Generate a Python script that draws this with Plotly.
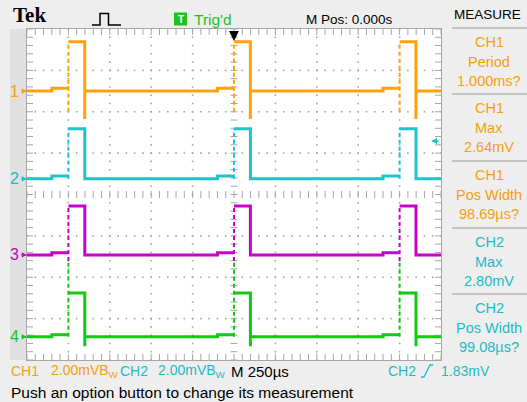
import plotly.graph_objects as go

# ---------------- data ----------------
TIME_RANGE_US = [-1250, 1250]          # 10 div x 250 us/div
DIV_RANGE = [-4, 4]                    # 8 vertical divisions
US_PER_DIV = 250
MV_PER_DIV = 2.0
PULSE_STARTS_US = [-1000, 0, 1000]
PRE_BUMP_US = 100

channels = ["CH1", "CH2", "CH3", "CH4"]
ground_div = [2.50, 0.38, -1.46, -3.44]
pulse_width_us = [98.69, 99.08, 99.0, 99.0]
pre_mv = [0.14, 0.14, 0.10, 0.10]
high_mv = [2.38, 2.42, 2.36, 2.12]
rise_lo_mv = [-1.00, 0.0, -0.30, 0.0]
rise_hi_mv = [2.38, 2.42, 2.36, 3.62]
fall_dip_mv = [-1.35, 0.0, 0.0, -0.45]

TRIG_LEVEL_MV = 1.83
measure_titles = ["CH1", "CH1", "CH1", "CH2", "CH2"]
measure_names = ["Period", "Max", "Pos Width", "Max", "Pos Width"]
measure_values = ["1.000ms?", "2.64mV", "98.69µs?", "2.80mV", "99.08µs?"]

# ---------------- style ----------------
W, H = 527, 402
PL, PR, PT, PB = 27, 441, 29, 360
COLORS = ["#ffa10a", "#1fc3c9", "#c800c8", "#14c814"]
TEXT_COLORS = ["#f5a00c", "#1cbcc6", "#c800c8", "#14c814"]
GRID = "#a6a6a6"
BG = "#eeeeee"
SANS = "Liberation Sans, Arial, sans-serif"


def px(xp):
    return (xp - PL) / (PR - PL)


def py(yp):
    return (PB - yp) / (PB - PT)


fig = go.Figure()

# graticule dots
xs, ys = [], []
for k in range(-4, 5):
    if k == 0:
        continue
    for m in range(-20, 21):
        xs.append(k * US_PER_DIV)
        ys.append(m * 0.2)
for j in range(-3, 4):
    if j == 0:
        continue
    for m in range(-25, 26):
        xs.append(m * 0.2 * US_PER_DIV)
        ys.append(j)
fig.add_trace(go.Scatter(x=xs, y=ys, mode="markers", hoverinfo="skip",
                         marker=dict(symbol="square", size=1.6, color=GRID, line_width=0)))

# center cross ticks
cx = [m * 0.2 * US_PER_DIV for m in range(-25, 26)]
fig.add_trace(go.Scatter(x=cx, y=[0] * len(cx), mode="markers", hoverinfo="skip",
                         marker=dict(symbol="line-ns", size=5, line=dict(color=GRID, width=1))))
cy = [m * 0.2 for m in range(-20, 21)]
fig.add_trace(go.Scatter(x=[0] * len(cy), y=cy, mode="markers", hoverinfo="skip",
                         marker=dict(symbol="line-ew", size=5, line=dict(color=GRID, width=1))))
# frame edge ticks
off_y = 2.5 / 41.4
off_x = 2.5 / 41.4 * US_PER_DIV
fig.add_trace(go.Scatter(x=cx + cx, y=[4 - off_y] * len(cx) + [-4 + off_y] * len(cx),
                         mode="markers", hoverinfo="skip",
                         marker=dict(symbol="line-ns", size=5, line=dict(color=GRID, width=1))))
fig.add_trace(go.Scatter(x=[-1250 + off_x] * len(cy) + [1250 - off_x] * len(cy), y=cy + cy,
                         mode="markers", hoverinfo="skip",
                         marker=dict(symbol="line-ew", size=5, line=dict(color=GRID, width=1))))

# waveforms
for i, ch in enumerate(channels):
    g = ground_div[i]
    w = pulse_width_us[i]

    def v(mv):
        return g + mv / MV_PER_DIV
    sx, sy = [TIME_RANGE_US[0]], [v(0)]
    rx, ry = [], []
    for p in PULSE_STARTS_US:
        sx += [p - PRE_BUMP_US, p - PRE_BUMP_US, p, None, p, p + w, p + w, p + w]
        sy += [v(0), v(pre_mv[i]), v(pre_mv[i]), None, v(high_mv[i]), v(high_mv[i]),
               v(fall_dip_mv[i]), v(0)]
        rx += [p, p, None]
        ry += [v(rise_lo_mv[i]), v(rise_hi_mv[i]), None]
    sx.append(TIME_RANGE_US[1])
    sy.append(v(0))
    fig.add_trace(go.Scatter(x=sx, y=sy, mode="lines", name=ch, hoverinfo="skip",
                             line=dict(color=COLORS[i], width=3), connectgaps=False))
    fig.add_trace(go.Scatter(x=rx, y=ry, mode="lines", hoverinfo="skip",
                             line=dict(color=COLORS[i], width=2, dash="4px,3px")))

annotations = []
shapes = []

# channel ground markers
for i, ch in enumerate(channels):
    annotations.append(dict(x=px(14), y=ground_div[i], xref="paper", yref="y", text=ch[-1],
                            showarrow=False, font=dict(family=SANS, size=16, color=TEXT_COLORS[i]),
                            xanchor="center", yanchor="middle"))
    annotations.append(dict(x=px(27), y=ground_div[i], xref="paper", yref="y", text="",
                            showarrow=True, ax=-7, ay=0, arrowhead=2, arrowsize=0.7,
                            arrowwidth=1.5, arrowcolor=TEXT_COLORS[i]))

# trigger position arrow
annotations.append(dict(x=0, y=py(41), xref="x", yref="paper", text="", showarrow=True,
                        ax=0, ay=-10, arrowhead=2, arrowsize=0.9, arrowwidth=2.2, arrowcolor="black"))
# trigger level arrow (CH2)
annotations.append(dict(x=(431 - 234) / 41.4 * US_PER_DIV, y=ground_div[1] + TRIG_LEVEL_MV / MV_PER_DIV,
                        xref="x", yref="y", text="", showarrow=True, ax=9, ay=0, arrowhead=2,
                        arrowsize=0.8, arrowwidth=1.5, arrowcolor=COLORS[1]))

# left strip
shapes.append(dict(type="rect", xref="paper", yref="paper", x0=px(10), x1=px(27), y0=py(360),
                   y1=py(29), fillcolor="#e0e0e0", line_width=0, layer="below"))

# top bar
annotations.append(dict(x=px(11), y=py(15), xref="paper", yref="paper", text="<b>Tek</b>",
                        showarrow=False, xanchor="left", yanchor="middle",
                        font=dict(family="Liberation Serif, serif", size=21, color="black")))
shapes.append(dict(type="path", xref="paper", yref="paper",
                   path=f"M {px(92)} {py(25)} L {px(100)} {py(25)} L {px(100)} {py(13.5)} "
                        f"L {px(108.5)} {py(13.5)} L {px(108.5)} {py(25)} L {px(121)} {py(25)}",
                   line=dict(color="black", width=1.5)))
shapes.append(dict(type="rect", xref="paper", yref="paper", x0=px(174), x1=px(187), y0=py(25.5),
                   y1=py(12.5), fillcolor="#1ec21e", line_width=0))
annotations.append(dict(x=px(180.5), y=py(19), xref="paper", yref="paper", text="<b>T</b>",
                        showarrow=False, xanchor="center", yanchor="middle",
                        font=dict(family=SANS, size=10, color="white")))
annotations.append(dict(x=px(192), y=py(19), xref="paper", yref="paper", text="Trig'd",
                        showarrow=False, xanchor="left", yanchor="middle",
                        font=dict(family=SANS, size=15.5, color="#1ec21e")))
annotations.append(dict(x=px(304), y=py(19), xref="paper", yref="paper", text="M Pos: 0.000s",
                        showarrow=False, xanchor="left", yanchor="middle",
                        font=dict(family=SANS, size=13.5, color="black")))
annotations.append(dict(x=px(487), y=py(15), xref="paper", yref="paper", text="MEASURE",
                        showarrow=False, xanchor="center", yanchor="middle",
                        font=dict(family=SANS, size=13.5, color="black")))

# measure panel
seps = [28, 94, 161, 228, 294]
for s in seps:
    shapes.append(dict(type="line", xref="paper", yref="paper", x0=px(452), x1=px(527),
                       y0=py(s), y1=py(s), line=dict(color="#b4b4b4", width=1.5)))
for k in range(5):
    top = seps[k]
    col = TEXT_COLORS[0] if measure_titles[k] == "CH1" else TEXT_COLORS[1]
    for r, txt in enumerate([measure_titles[k], measure_names[k], measure_values[k]]):
        annotations.append(dict(x=px(489), y=py(top + 14 + r * 19.5), xref="paper", yref="paper",
                                text=txt, showarrow=False, xanchor="center", yanchor="middle",
                                font=dict(family=SANS, size=14.5, color=col)))


# bottom status
def status(x, text, color, y=371, size=14):
    annotations.append(dict(x=px(x), y=py(y), xref="paper", yref="paper", text=text,
                            showarrow=False, xanchor="left", yanchor="middle",
                            font=dict(family=SANS, size=size, color=color)))


status(9, "CH1", TEXT_COLORS[0])
status(49, "2.00mVB<sub>W</sub>", TEXT_COLORS[0])
status(118, "CH2", TEXT_COLORS[1])
status(156, "2.00mVB<sub>W</sub>", TEXT_COLORS[1])
status(229, "M 250µs", "black", size=15)
status(386, "CH2", TEXT_COLORS[1])
status(439, "1.83mV", TEXT_COLORS[1])
shapes.append(dict(type="path", xref="paper", yref="paper",
                   path=f"M {px(421)} {py(377)} L {px(424)} {py(377)} L {px(430)} {py(365)} L {px(433)} {py(365)}",
                   line=dict(color=TEXT_COLORS[1], width=1.3)))
status(9, "Push an option button to change its measurement", "black", y=392, size=15.5)

fig.update_layout(
    width=W, height=H,
    margin=dict(l=PL, r=W - PR, t=PT, b=H - PB, pad=0),
    paper_bgcolor=BG, plot_bgcolor="white",
    showlegend=False,
    xaxis=dict(range=TIME_RANGE_US, showgrid=False, zeroline=False, showticklabels=False,
               ticks="", showline=True, mirror=True, linecolor=GRID, linewidth=1, fixedrange=True),
    yaxis=dict(range=DIV_RANGE, showgrid=False, zeroline=False, showticklabels=False,
               ticks="", showline=True, mirror=True, linecolor=GRID, linewidth=1, fixedrange=True),
    annotations=annotations, shapes=shapes,
)

fig.write_html("out.html", config={"displayModeBar": False},
               post_script="document.body.style.margin='0';document.body.style.padding='0';")
